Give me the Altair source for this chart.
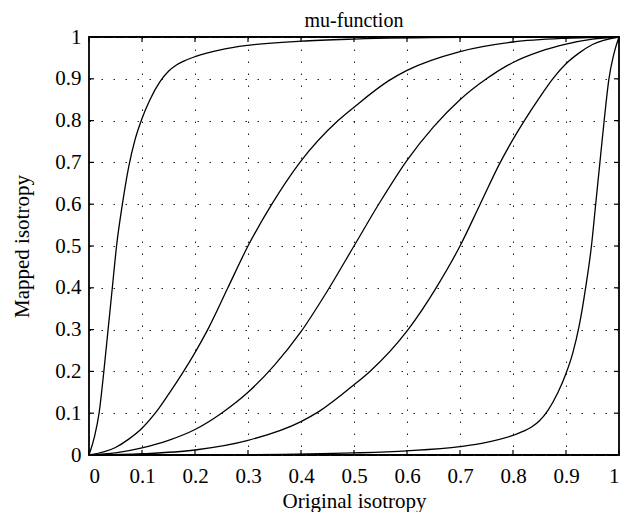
import altair as alt
import pandas as pd

# ---- data ----
A_x = [0, 0.01, 0.019, 0.028, 0.036, 0.044, 0.052, 0.063, 0.075, 0.087, 0.1, 0.115, 0.134, 0.15, 0.165, 0.18, 0.2, 0.25, 0.3, 0.4, 0.5, 0.7, 1.0]
A_y = [0, 0.042, 0.1, 0.2, 0.3, 0.4, 0.5, 0.6, 0.69, 0.755, 0.805, 0.85, 0.893, 0.918, 0.933, 0.943, 0.953, 0.97, 0.98, 0.99, 0.995, 0.999, 1.0]

B_x = [0, 0.05, 0.075, 0.1, 0.125, 0.15, 0.177, 0.2, 0.224, 0.262, 0.3, 0.345, 0.398, 0.47, 0.5, 0.565, 0.6, 0.7, 0.8, 0.9, 1.0]
B_y = [0, 0.018, 0.038, 0.064, 0.1, 0.145, 0.197, 0.245, 0.3, 0.4, 0.5, 0.6, 0.7, 0.8, 0.832, 0.895, 0.92, 0.965, 0.988, 0.997, 1.0]

C_x = [0, 0.05, 0.1, 0.15, 0.2, 0.25, 0.3, 0.35, 0.4, 0.45, 0.5, 0.55, 0.6, 0.65, 0.7, 0.75, 0.8, 0.85, 0.9, 0.95, 1.0]
C_y = [0, 0.005, 0.017, 0.035, 0.061, 0.1, 0.15, 0.215, 0.295, 0.393, 0.5, 0.607, 0.705, 0.785, 0.85, 0.9, 0.939, 0.965, 0.983, 0.995, 1.0]

D_x = [0, 0.1, 0.2, 0.3, 0.4, 0.435, 0.5, 0.53, 0.602, 0.655, 0.7, 0.738, 0.776, 0.8, 0.823, 0.85, 0.875, 0.9, 0.925, 0.95, 1.0]
D_y = [0, 0.003, 0.012, 0.035, 0.08, 0.105, 0.168, 0.2, 0.3, 0.4, 0.5, 0.6, 0.7, 0.755, 0.803, 0.855, 0.9, 0.936, 0.962, 0.982, 1.0]

E_x = [0, 0.3, 0.5, 0.6, 0.7, 0.75, 0.8, 0.82, 0.835, 0.85, 0.866, 0.885, 0.9, 0.913, 0.925, 0.937, 0.948, 0.956, 0.964, 0.972, 0.981, 0.99, 1.0]
E_y = [0, 0.001, 0.005, 0.01, 0.02, 0.03, 0.047, 0.057, 0.067, 0.082, 0.107, 0.15, 0.195, 0.245, 0.31, 0.4, 0.5, 0.6, 0.7, 0.8, 0.9, 0.958, 1.0]

tick_values = [0, 0.1, 0.2, 0.3, 0.4, 0.5, 0.6, 0.7, 0.8, 0.9, 1]

rows = []
for name, xs_, ys_ in [("A", A_x, A_y), ("B", B_x, B_y), ("C", C_x, C_y),
                       ("D", D_x, D_y), ("E", E_x, E_y)]:
    for xv, yv in zip(xs_, ys_):
        rows.append({"curve": name, "x": xv, "y": yv})
df = pd.DataFrame(rows)
tdf = pd.DataFrame({"x": tick_values, "y": tick_values})

W, H = 530, 418
FONT = "Liberation Serif"
FS = 21

xscale = alt.Scale(domain=[0, 1], nice=False, zero=False)
yscale = alt.Scale(domain=[0, 1], nice=False, zero=False)

LABEL = "datum.value == 0 ? '0' : (datum.value == 1 ? '1' : format(datum.value, '.1f'))"

common = dict(grid=True, gridDash=[1.5, 10.5], gridColor="#222", gridWidth=1,
              ticks=False, domain=False, labelExpr=LABEL, values=tick_values,
              labelFont=FONT, labelFontSize=FS, labelColor="black",
              titleFont=FONT, titleFontSize=FS, titleFontWeight="normal",
              titleColor="black")

x_axis = alt.Axis(title="Original isotropy", labelPadding=10,
                  titleY=52, titleBaseline="alphabetic", **common)
y_axis = alt.Axis(title="Mapped isotropy", labelPadding=8, titlePadding=22, **common)

curves = alt.Chart(df).mark_line(color="black", strokeWidth=1.3, interpolate="monotone").encode(
    x=alt.X("x:Q", scale=xscale, axis=x_axis),
    y=alt.Y("y:Q", scale=yscale, axis=y_axis),
    detail="curve:N",
)

TL = 5
tick_style = dict(color="black", strokeWidth=1.2)
bottom_ticks = alt.Chart(tdf).mark_rule(**tick_style).encode(
    x=alt.X("x:Q", scale=xscale, axis=x_axis), y=alt.value(H), y2=alt.value(H - TL))
top_ticks = alt.Chart(tdf).mark_rule(**tick_style).encode(
    x=alt.X("x:Q", scale=xscale, axis=x_axis), y=alt.value(0), y2=alt.value(TL))
left_ticks = alt.Chart(tdf).mark_rule(**tick_style).encode(
    y=alt.Y("y:Q", scale=yscale, axis=y_axis), x=alt.value(0), x2=alt.value(TL))
right_ticks = alt.Chart(tdf).mark_rule(**tick_style).encode(
    y=alt.Y("y:Q", scale=yscale, axis=y_axis), x=alt.value(W), x2=alt.value(W - TL))

chart = alt.layer(curves, bottom_ticks, top_ticks, left_ticks, right_ticks).properties(
    width=W, height=H,
    autosize=alt.AutoSizeParams(type="none"),
    padding={"left": 81, "top": 29, "right": 12, "bottom": 57},
    title=alt.TitleParams("mu-function", font=FONT, fontSize=20, fontWeight="normal",
                          color="black", frame="group", anchor="middle", offset=3, dy=8),
).configure_view(stroke="black", strokeWidth=1.8)

chart.save("out.html", embed_options={"renderer": "svg", "actions": False})
